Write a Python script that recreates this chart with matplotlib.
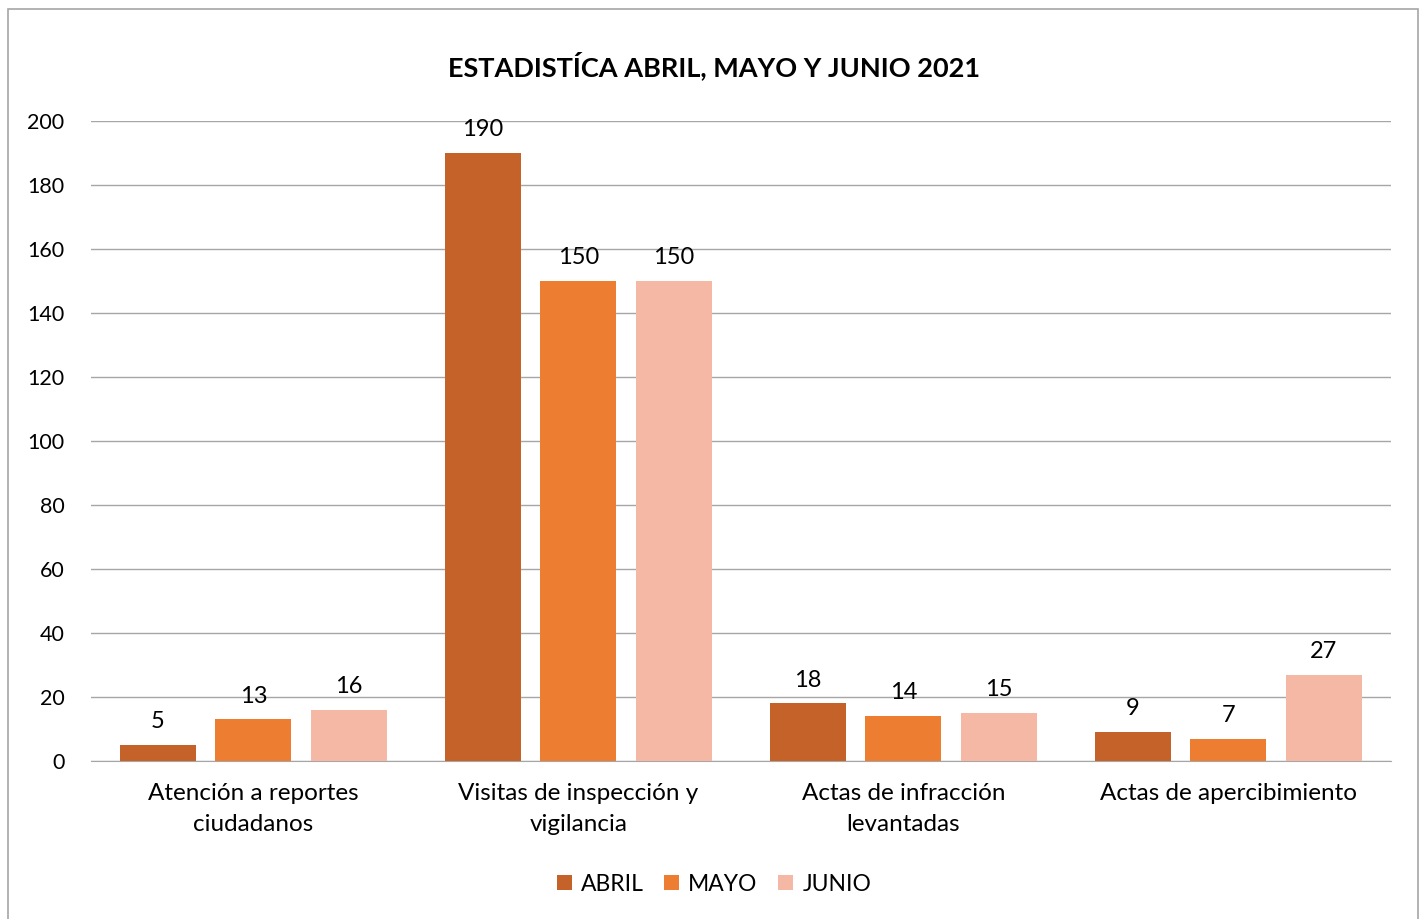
import numpy as np
import matplotlib
matplotlib.use('Agg')
from matplotlib import pyplot as plt
from matplotlib.patches import Rectangle

plt.rcParams['font.family'] = ['Lato', 'DejaVu Sans']

categories = ['Atención a reportes\nciudadanos', 'Visitas de inspección y\nvigilancia',
              'Actas de infracción\nlevantadas', 'Actas de apercibimiento']
series = ['ABRIL', 'MAYO', 'JUNIO']
abril = [5, 190, 18, 9]
mayo = [13, 150, 14, 7]
junio = [16, 150, 15, 27]
colors = ['#C4622A', '#ED7D31', '#F4B8A5']

fig = plt.figure(figsize=(14.28, 9.19), dpi=100)
ax = fig.add_axes([0.0637, 0.172, 0.9103, 0.6963])

x = np.arange(len(categories))
w = 0.234
step = 0.294
for i, (name, vals) in enumerate(zip(series, [abril, mayo, junio])):
    bars = ax.bar(x + (i - 1) * step, vals, w, color=colors[i], label=name, zorder=3)
    for b, v in zip(bars, vals):
        ax.text(b.get_x() + b.get_width() / 2, v + 4, str(v), ha='center', va='bottom',
                fontsize=17, color='#000000')

ax.set_xlim(-0.5, len(categories) - 0.5)
ax.set_ylim(0, 200)
ax.set_yticks(range(0, 201, 20))
ax.set_xticks(x)
ax.set_xticklabels(categories, fontsize=17.5, linespacing=1.6)
ax.tick_params(axis='y', labelsize=15.5, length=0, pad=19)
ax.tick_params(axis='x', length=0, pad=16)
ax.grid(axis='y', color='#A6A6A6', linewidth=1, zorder=0)
for s in ['top', 'right', 'left']:
    ax.spines[s].set_visible(False)
ax.spines['bottom'].set_color('#A6A6A6')

fig.text(0.5, 0.928, 'ESTADISTÍCA ABRIL, MAYO Y JUNIO 2021', ha='center', va='center',
         fontsize=19.5, fontweight='bold')
fig.legend(loc='center', bbox_to_anchor=(0.5, 0.038), ncol=3, frameon=False, fontsize=16.5,
           handlelength=0.65, handleheight=0.65, handletextpad=0.4, columnspacing=0.9)

fig.patches.append(Rectangle((8 / 1428, -0.01), 1410 / 1428, 1 - 9 / 919 + 0.01,
                             transform=fig.transFigure, fill=False, edgecolor='#A6A6A6',
                             linewidth=1.2))

fig.savefig('out.png', dpi=100)
